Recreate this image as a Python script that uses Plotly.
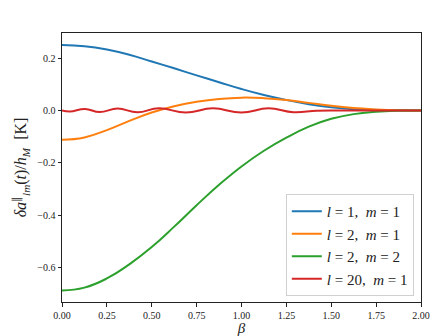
import plotly.graph_objects as go

# beta grid for the smooth curves
beta = [0, 0.125, 0.25, 0.375, 0.5, 0.625, 0.75, 0.875, 1.0,
        1.125, 1.25, 1.375, 1.5, 1.625, 1.75, 1.875, 2.0]

l1_m1 = [0.250, 0.2455, 0.233, 0.213, 0.187, 0.161, 0.134, 0.108, 0.082,
         0.059, 0.040, 0.024, 0.012, 0.005, 0.002, 0.0005, 0.0]
l2_m1 = [-0.112, -0.103, -0.075, -0.040, -0.008, 0.016, 0.033, 0.044, 0.049,
         0.047, 0.040, 0.029, 0.018, 0.009, 0.004, 0.001, 0.0]
l2_m2 = [-0.688, -0.677, -0.642, -0.588, -0.522, -0.444, -0.362, -0.284, -0.214,
         -0.154, -0.104, -0.062, -0.032, -0.014, -0.005, -0.001, 0.0]

# l=20 wiggles, sampled at its peaks and troughs
beta_l20 = [0, 0.045, 0.128, 0.21, 0.31, 0.42, 0.54, 0.69, 0.84, 1.0,
            1.15, 1.29, 1.42, 1.55, 1.75, 2.0]
l20_m1 = [0.0, -0.004, 0.006, -0.006, 0.007, -0.007, 0.008, -0.008, 0.008, -0.008,
          0.008, -0.007, -0.001, 0.0, 0.0, 0.0]

series = [
    (beta, l1_m1, "<i>l</i> = 1,  <i>m</i> = 1", "#1f77b4"),
    (beta, l2_m1, "<i>l</i> = 2,  <i>m</i> = 1", "#ff7f0e"),
    (beta, l2_m2, "<i>l</i> = 2,  <i>m</i> = 2", "#2ca02c"),
    (beta_l20, l20_m1, "<i>l</i> = 20,  <i>m</i> = 1", "#d62728"),
]

serif = "Liberation Serif"

fig = go.Figure()
for x, y, name, col in series:
    fig.add_trace(go.Scatter(x=x, y=y, name=name, mode="lines",
                             line=dict(color=col, width=2, shape="spline", smoothing=1.3)))

axis_common = dict(showline=True, linecolor="#222", linewidth=1, mirror=True,
                   ticks="outside", ticklen=3.5, tickwidth=1, tickcolor="#222",
                   showgrid=False, zeroline=False, automargin=False,
                   tickfont=dict(family=serif, size=10, color="#222"))

fig.update_xaxes(range=[0, 2], dtick=0.25, tick0=0, tickformat=".2f",
                 title=dict(text="<i>β</i>", font=dict(family=serif, size=15, color="#222"),
                            standoff=2),
                 **axis_common)
fig.update_yaxes(range=[-0.732, 0.296], tickvals=[-0.6, -0.4, -0.2, 0.0, 0.2],
                 tickformat=".1f",
                 title=dict(text="<i>δa</i><sup>∥</sup><sub><i>lm</i></sub>(<i>t</i>)/<i>h</i><sub><i>M</i></sub>  [K]",
                            font=dict(family=serif, size=16, color="#222"), standoff=6),
                 **axis_common)

fig.update_layout(
    width=448, height=336,
    margin=dict(l=62, r=27, t=33, b=34),
    plot_bgcolor="white", paper_bgcolor="white",
    legend=dict(x=0.98, y=0.022, xanchor="right", yanchor="bottom",
                bgcolor="rgba(255,255,255,0.8)", bordercolor="#d0d0d0", borderwidth=1,
                font=dict(family=serif, size=15, color="#222"),
                tracegroupgap=0, itemwidth=30),
    showlegend=True,
)

fig.write_html("out.html", config={"displayModeBar": False},
               post_script="document.body.style.margin='0';")
